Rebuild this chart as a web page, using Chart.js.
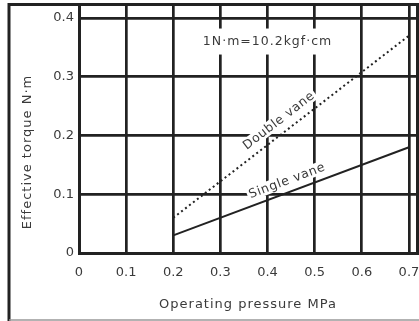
<!DOCTYPE html>
<html>
<head>
<meta charset="utf-8">
<script src="https://cdn.jsdelivr.net/npm/chart.js@4/dist/chart.umd.min.js"></script>
<style>
  html, body { margin: 0; padding: 0; background: #fff; }
  #wrap { width: 419px; height: 321px; position: relative; }
</style>
</head>
<body>
<div id="wrap"><canvas id="c" width="419" height="321"></canvas></div>
<script>
// ---- data ----
const pressure = [0.2, 0.7];                 // MPa
const singleVane = [0.03, 0.18];             // N·m
const doubleVane = [0.06, 0.37];             // N·m
const xTickValues = [0, 0.1, 0.2, 0.3, 0.4, 0.5, 0.6, 0.7];
const yTickValues = [0, 0.1, 0.2, 0.3, 0.4];
const seriesNames = ['Single vane', 'Double vane'];
const xTitle = 'Operating pressure MPa';
const yTitle = 'Effective torque N·m';
const noteText = '1N·m=10.2kgf·cm';

const INK = '#222';
const TXT = '#3a3a3a';
const FONT = '"DejaVu Sans", "Liberation Sans", Arial, sans-serif';

const fmt = v => (Math.abs(v) < 1e-9 ? '0' : v.toFixed(1));

const decor = {
  id: 'decor',
  beforeDraw(chart) {
    const ctx = chart.ctx;
    ctx.save();
    ctx.fillStyle = '#fff';
    ctx.fillRect(0, 0, chart.width, chart.height);
    ctx.restore();
  },
  afterDatasetsDraw(chart) {
    const ctx = chart.ctx;
    const xs = chart.scales.x, ys = chart.scales.y;
    const ca = chart.chartArea;
    ctx.save();
    // outer frame
    ctx.strokeStyle = INK;
    ctx.lineWidth = 3;
    ctx.beginPath();
    ctx.moveTo(9, 321); ctx.lineTo(9, 4.5); ctx.lineTo(419, 4.5);
    ctx.stroke();
    ctx.strokeStyle = '#999';
    ctx.lineWidth = 1.5;
    ctx.beginPath();
    ctx.moveTo(9, 320); ctx.lineTo(419, 320);
    ctx.stroke();
    // right border of plot
    ctx.strokeStyle = INK;
    ctx.lineWidth = 3;
    ctx.beginPath();
    ctx.moveTo(ca.right - 1.5, ca.top); ctx.lineTo(ca.right - 1.5, ca.bottom);
    ctx.stroke();

    // note text with white backing
    ctx.font = '12.5px ' + FONT;
    ctx.letterSpacing = '1px';
    ctx.textAlign = 'center';
    ctx.textBaseline = 'middle';
    const nx = xs.getPixelForValue(0.4), ny = ys.getPixelForValue(0.36);
    const nw = ctx.measureText(noteText).width;
    ctx.fillStyle = '#fff';
    ctx.fillRect(nx - nw / 2 - 5, ny - 13, nw + 10, 26);
    ctx.fillStyle = TXT;
    ctx.fillText(noteText, nx, ny);

    // series labels, rotated along their lines
    const labelAt = (i, xv, yShift) => {
      const d = chart.data.datasets[i].data;
      const p0 = { x: xs.getPixelForValue(d[0].x), y: ys.getPixelForValue(d[0].y) };
      const p1 = { x: xs.getPixelForValue(d[1].x), y: ys.getPixelForValue(d[1].y) };
      const ang = Math.atan2(p1.y - p0.y, p1.x - p0.x);
      const t = (xv - d[0].x) / (d[1].x - d[0].x);
      const yv = d[0].y + t * (d[1].y - d[0].y);
      const px = xs.getPixelForValue(xv), py = ys.getPixelForValue(yv);
      ctx.save();
      ctx.translate(px, py);
      ctx.rotate(ang);
      ctx.translate(0, -yShift);
      ctx.font = '12.5px ' + FONT;
      ctx.letterSpacing = '0.7px';
      const w = ctx.measureText(seriesNames[i]).width;
      ctx.fillStyle = '#fff';
      ctx.fillRect(-w / 2 - 2, -7, w + 4, 13);
      ctx.fillStyle = TXT;
      ctx.textAlign = 'center';
      ctx.textBaseline = 'middle';
      ctx.fillText(seriesNames[i], 0, 0);
      ctx.restore();
    };
    labelAt(1, 0.44, 12);
    labelAt(0, 0.45, 11);

    // axis titles
    ctx.fillStyle = TXT;
    ctx.font = '13px ' + FONT;
    ctx.letterSpacing = '1px';
    ctx.textAlign = 'center';
    ctx.textBaseline = 'middle';
    ctx.fillText(xTitle, 248, 305);
    ctx.save();
    ctx.translate(28, 152);
    ctx.rotate(-Math.PI / 2);
    ctx.fillText(yTitle, 0, 0);
    ctx.restore();
    ctx.restore();
  }
};

new Chart(document.getElementById('c'), {
  type: 'line',
  data: {
    datasets: [
      {
        label: seriesNames[0],
        data: pressure.map((p, i) => ({ x: p, y: singleVane[i] })),
        borderColor: INK,
        borderWidth: 2,
        pointRadius: 0,
        fill: false
      },
      {
        label: seriesNames[1],
        data: pressure.map((p, i) => ({ x: p, y: doubleVane[i] })),
        borderColor: INK,
        borderWidth: 2,
        borderDash: [2, 3],
        pointRadius: 0,
        fill: false
      }
    ]
  },
  options: {
    responsive: false,
    animation: false,
    devicePixelRatio: 1,
    layout: { padding: { top: 4, right: 0, bottom: 0, left: 0 } },
    plugins: { legend: { display: false }, tooltip: { enabled: false } },
    scales: {
      x: {
        type: 'linear',
        min: 0,
        max: 0.7213,
        afterBuildTicks: s => { s.ticks = xTickValues.map(v => ({ value: v })); },
        afterFit: s => { s.height = 68; s.paddingLeft = 0; s.paddingRight = 0; },
        grid: { color: INK, lineWidth: 2.7, drawTicks: false },
        border: { color: INK, width: 3 },
        ticks: {
          padding: 12,
          color: TXT,
          font: { family: FONT, size: 13 },
          callback: v => fmt(v),
          maxRotation: 0,
          autoSkip: false
        }
      },
      y: {
        min: 0,
        max: 0.4239,
        afterBuildTicks: s => { s.ticks = yTickValues.map(v => ({ value: v })); },
        afterFit: s => { s.width = 79; s.paddingTop = 0; s.paddingBottom = 0; },
        grid: { color: INK, lineWidth: 2.7, drawTicks: false },
        border: { color: INK, width: 3 },
        ticks: {
          padding: 5,
          color: TXT,
          font: { family: FONT, size: 13 },
          callback: v => fmt(v)
        }
      }
    }
  },
  plugins: [decor]
});
</script>
</body>
</html>
